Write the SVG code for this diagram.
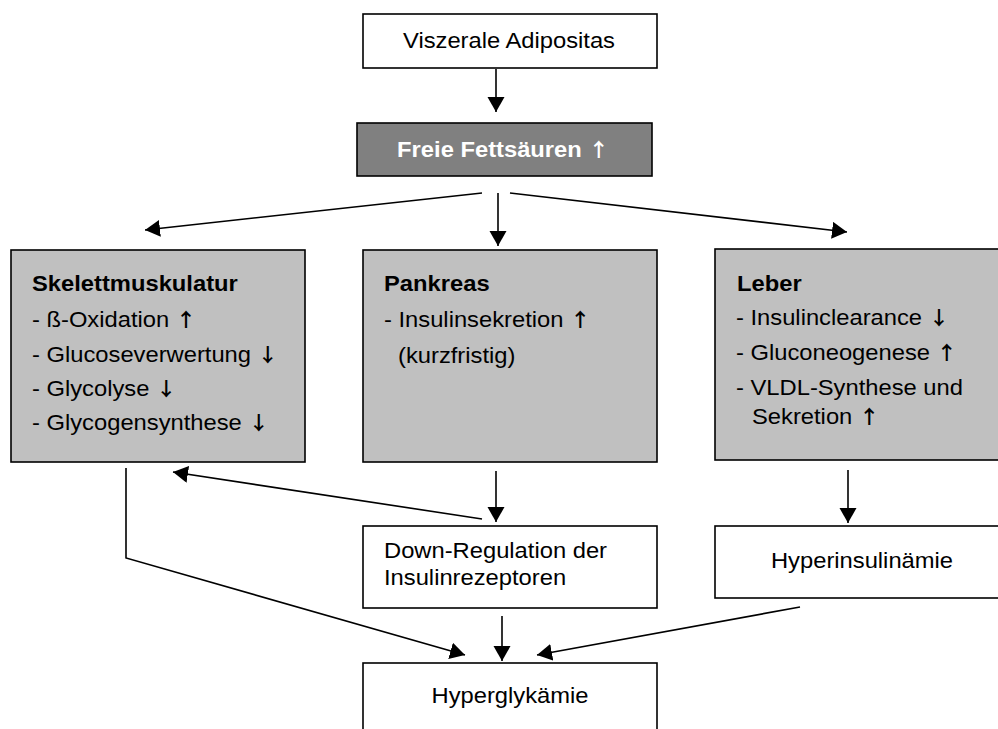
<svg xmlns="http://www.w3.org/2000/svg" width="998" height="729" viewBox="0 0 998 729">
<defs>
<style>
.box{stroke:#000;stroke-width:1.6}
.w{fill:#fff}
.g{fill:#c0c0c0}
.d{fill:#808080}
text{font-family:"Liberation Sans",Arial,sans-serif;font-size:22px;fill:#000}
.b{font-weight:bold}
.c{text-anchor:middle}
.wt{fill:#fff}
.ar{font-family:"Noto Sans CJK SC",sans-serif;font-size:19px;font-weight:bold}
.ln{stroke:#000;stroke-width:1.6;fill:none}
</style>
<marker id="ah" markerWidth="16" markerHeight="18" refX="15" refY="8.5" orient="auto" markerUnits="userSpaceOnUse">
<path d="M0,0 L15,8.5 L0,17 z" fill="#000"/>
</marker>
</defs>
<rect width="998" height="729" fill="#fff"/>

<g id="connectors">
<line class="ln" x1="496" y1="69" x2="496" y2="112" marker-end="url(#ah)"/>
<line class="ln" x1="498" y1="193" x2="498" y2="246" marker-end="url(#ah)"/>
<line class="ln" x1="482" y1="193" x2="145" y2="230" marker-end="url(#ah)"/>
<line class="ln" x1="510" y1="193" x2="847" y2="232" marker-end="url(#ah)"/>
<line class="ln" x1="496" y1="471" x2="496" y2="522" marker-end="url(#ah)"/>
<line class="ln" x1="482" y1="519" x2="173" y2="472" marker-end="url(#ah)"/>
<polyline class="ln" points="126,468 126,558 465,655" marker-end="url(#ah)"/>
<line class="ln" x1="502" y1="616" x2="502" y2="661" marker-end="url(#ah)"/>
<line class="ln" x1="800" y1="607" x2="537" y2="655" marker-end="url(#ah)"/>
<line class="ln" x1="848" y1="470" x2="848" y2="523" marker-end="url(#ah)"/>
</g>

<g id="adipositas">
<rect class="box w" x="363" y="14" width="294" height="54"/>
<text class="c" transform="translate(509 48) scale(1.08 1)">Viszerale Adipositas</text>
</g>

<g id="fettsaeuren">
<rect class="box d" x="357" y="123" width="295" height="53"/>
<text class="c b wt" transform="translate(503 157) scale(1.08 1)">Freie Fettsäuren <tspan class="ar">↑</tspan></text>
</g>

<g id="skelett">
<rect class="box g" x="11" y="250" width="294" height="212"/>
<text class="b" transform="translate(32 291) scale(1.08 1)">Skelettmuskulatur</text>
<text transform="translate(32 327) scale(1.08 1)">- ß-Oxidation <tspan class="ar">↑</tspan></text>
<text transform="translate(32 362) scale(1.08 1)">- Glucoseverwertung <tspan class="ar">↓</tspan></text>
<text transform="translate(32 396) scale(1.08 1)">- Glycolyse <tspan class="ar">↓</tspan></text>
<text transform="translate(32 430) scale(1.08 1)">- Glycogensynthese <tspan class="ar">↓</tspan></text>
</g>

<g id="pankreas">
<rect class="box g" x="363" y="250" width="294" height="212"/>
<text class="b" transform="translate(384 291) scale(1.08 1)">Pankreas</text>
<text transform="translate(384 327) scale(1.08 1)">- Insulinsekretion <tspan class="ar">↑</tspan></text>
<text transform="translate(398 363) scale(1.08 1)">(kurzfristig)</text>
</g>

<g id="leber">
<rect class="box g" x="715" y="249" width="290" height="211"/>
<text class="b" transform="translate(737 291) scale(1.08 1)">Leber</text>
<text transform="translate(736 325) scale(1.08 1)">- Insulinclearance <tspan class="ar">↓</tspan></text>
<text transform="translate(736 360) scale(1.08 1)">- Gluconeogenese <tspan class="ar">↑</tspan></text>
<text transform="translate(736 395) scale(1.08 1)">- VLDL-Synthese und</text>
<text transform="translate(752 424) scale(1.08 1)">Sekretion <tspan class="ar">↑</tspan></text>
</g>

<g id="downregulation">
<rect class="box w" x="363" y="526" width="294" height="82"/>
<text transform="translate(384 558) scale(1.08 1)">Down-Regulation der</text>
<text transform="translate(384 585) scale(1.08 1)">Insulinrezeptoren</text>
</g>

<g id="hyperinsulinaemie">
<rect class="box w" x="715" y="526" width="290" height="72"/>
<text class="c" transform="translate(862 568) scale(1.08 1)">Hyperinsulinämie</text>
</g>

<g id="hyperglykaemie">
<rect class="box w" x="363" y="663" width="294" height="80"/>
<text class="c" transform="translate(510 703) scale(1.08 1)">Hyperglykämie</text>
</g>
</svg>
